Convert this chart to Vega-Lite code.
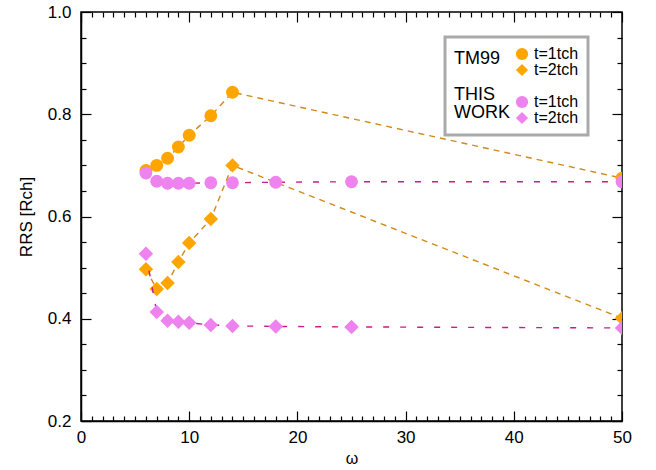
{
  "$schema": "https://vega.github.io/schema/vega-lite/v6.json",
  "width": 541,
  "height": 409,
  "autosize": {"type": "none"},
  "padding": {"left": 81, "top": 12, "right": 34, "bottom": 49},
  "config": {
    "font": "Liberation Sans",
    "view": {"stroke": "black", "strokeWidth": 1.5},
    "axis": {
      "domainColor": "black",
      "domainWidth": 1.5,
      "tickColor": "black",
      "tickWidth": 1.2,
      "labelColor": "black",
      "labelFontSize": 17,
      "titleColor": "black",
      "titleFontWeight": "normal",
      "grid": false,
      "zindex": 1
    },
    "legend": {"strokeWidth": 3}
  },
  "data": {
    "values": [
      {"w": 6, "r": 0.69, "group": "TM99", "t": "1", "key": "TM99 t1"},
      {"w": 7, "r": 0.70, "group": "TM99", "t": "1", "key": "TM99 t1"},
      {"w": 8, "r": 0.714, "group": "TM99", "t": "1", "key": "TM99 t1"},
      {"w": 9, "r": 0.736, "group": "TM99", "t": "1", "key": "TM99 t1"},
      {"w": 10, "r": 0.759, "group": "TM99", "t": "1", "key": "TM99 t1"},
      {"w": 12, "r": 0.797, "group": "TM99", "t": "1", "key": "TM99 t1"},
      {"w": 14, "r": 0.843, "group": "TM99", "t": "1", "key": "TM99 t1"},
      {"w": 50, "r": 0.675, "group": "TM99", "t": "1", "key": "TM99 t1"},
      {"w": 6, "r": 0.497, "group": "TM99", "t": "2", "key": "TM99 t2"},
      {"w": 7, "r": 0.458, "group": "TM99", "t": "2", "key": "TM99 t2"},
      {"w": 8, "r": 0.47, "group": "TM99", "t": "2", "key": "TM99 t2"},
      {"w": 9, "r": 0.511, "group": "TM99", "t": "2", "key": "TM99 t2"},
      {"w": 10, "r": 0.548, "group": "TM99", "t": "2", "key": "TM99 t2"},
      {"w": 12, "r": 0.595, "group": "TM99", "t": "2", "key": "TM99 t2"},
      {"w": 14, "r": 0.70, "group": "TM99", "t": "2", "key": "TM99 t2"},
      {"w": 50, "r": 0.401, "group": "TM99", "t": "2", "key": "TM99 t2"},
      {"w": 6, "r": 0.685, "group": "THIS", "t": "1", "key": "THIS t1"},
      {"w": 7, "r": 0.669, "group": "THIS", "t": "1", "key": "THIS t1"},
      {"w": 8, "r": 0.665, "group": "THIS", "t": "1", "key": "THIS t1"},
      {"w": 9, "r": 0.665, "group": "THIS", "t": "1", "key": "THIS t1"},
      {"w": 10, "r": 0.665, "group": "THIS", "t": "1", "key": "THIS t1"},
      {"w": 12, "r": 0.666, "group": "THIS", "t": "1", "key": "THIS t1"},
      {"w": 14, "r": 0.666, "group": "THIS", "t": "1", "key": "THIS t1"},
      {"w": 18, "r": 0.667, "group": "THIS", "t": "1", "key": "THIS t1"},
      {"w": 25, "r": 0.668, "group": "THIS", "t": "1", "key": "THIS t1"},
      {"w": 50, "r": 0.668, "group": "THIS", "t": "1", "key": "THIS t1"},
      {"w": 6, "r": 0.527, "group": "THIS", "t": "2", "key": "THIS t2"},
      {"w": 7, "r": 0.413, "group": "THIS", "t": "2", "key": "THIS t2"},
      {"w": 8, "r": 0.396, "group": "THIS", "t": "2", "key": "THIS t2"},
      {"w": 9, "r": 0.394, "group": "THIS", "t": "2", "key": "THIS t2"},
      {"w": 10, "r": 0.392, "group": "THIS", "t": "2", "key": "THIS t2"},
      {"w": 12, "r": 0.388, "group": "THIS", "t": "2", "key": "THIS t2"},
      {"w": 14, "r": 0.386, "group": "THIS", "t": "2", "key": "THIS t2"},
      {"w": 18, "r": 0.385, "group": "THIS", "t": "2", "key": "THIS t2"},
      {"w": 25, "r": 0.384, "group": "THIS", "t": "2", "key": "THIS t2"},
      {"w": 50, "r": 0.382, "group": "THIS", "t": "2", "key": "THIS t2"}
    ]
  },
  "layer": [
    {
      "transform": [{"filter": "datum.group === 'TM99' && datum.t === '1'"}],
      "mark": {"type": "line", "clip": true, "color": "#D08A1A", "strokeWidth": 1.4, "strokeDash": [6, 5]},
      "encoding": {
        "x": {
          "field": "w", "type": "quantitative",
          "scale": {"domain": [0, 50], "nice": false, "zero": false},
          "axis": {
            "orient": "bottom",
            "values": [0, 10, 20, 30, 40, 50],
            "ticks": false,
            "labelPadding": 8,
            "labelFlush": false,
            "title": "ω",
            "titleFontSize": 16,
            "titlePadding": 5
          }
        },
        "y": {
          "field": "r", "type": "quantitative",
          "scale": {"domain": [0.2, 1.0], "nice": false, "zero": false},
          "axis": {
            "orient": "left",
            "values": [0.2, 0.4, 0.6, 0.8, 1.0],
            "format": ".1f",
            "ticks": false,
            "labelPadding": 10,
            "labelFlush": false,
            "title": "RRS [Rch]",
            "titleFontSize": 17,
            "titlePadding": 12
          }
        }
      }
    },
    {
      "transform": [{"filter": "datum.group === 'TM99' && datum.t === '2'"}],
      "mark": {"type": "line", "clip": true, "color": "#D08A1A", "strokeWidth": 1.4, "strokeDash": [6, 5]},
      "encoding": {
        "x": {
          "field": "w", "type": "quantitative",
          "axis": {"orient": "top", "offset": -409, "values": [0, 10, 20, 30, 40, 50], "ticks": true, "tickSize": 10, "labels": false, "domain": false, "title": null}
        },
        "y": {
          "field": "r", "type": "quantitative",
          "axis": {"orient": "right", "offset": -541, "values": [0.2, 0.4, 0.6, 0.8, 1.0], "ticks": true, "tickSize": 10, "labels": false, "domain": false, "title": null}
        }
      }
    },
    {
      "transform": [{"filter": "datum.group === 'TM99'"}],
      "mark": {"type": "point", "filled": true, "opacity": 1, "clip": true},
      "encoding": {
        "x": {
          "field": "w", "type": "quantitative",
          "axis": {
            "orient": "top", "offset": -409,
            "values": [1,2,3,4,5,6,7,8,9,11,12,13,14,15,16,17,18,19,21,22,23,24,25,26,27,28,29,31,32,33,34,35,36,37,38,39,41,42,43,44,45,46,47,48,49],
            "ticks": true, "tickSize": 5, "labels": false, "domain": false, "title": null
          }
        },
        "y": {
          "field": "r", "type": "quantitative",
          "axis": {
            "orient": "right", "offset": -541,
            "values": [0.25, 0.3, 0.35, 0.45, 0.5, 0.55, 0.65, 0.7, 0.75, 0.85, 0.9, 0.95],
            "ticks": true, "tickSize": 5, "labels": false, "domain": false, "title": null
          }
        },
        "color": {
          "field": "key", "type": "nominal",
          "scale": {"domain": ["TM99 t1", "TM99 t2", "spacer", "THIS t1", "THIS t2"], "range": ["#FFA500", "#FFA500", "rgba(0,0,0,0)", "#EE82EE", "#EE82EE"]},
          "legend": {
            "orient": "none", "legendX": 364, "legendY": 25,
            "title": ["TM99", "\u200b", "THIS", "WORK"],
            "titleOrient": "left",
            "titleFontSize": 18, "titleFontWeight": "normal", "titleLineHeight": 18, "titleColor": "black",
            "titlePadding": 4,
            "labelExpr": "datum.value === 'spacer' ? '' : (indexof(datum.value, 't1') >= 0 ? 't=1tch' : 't=2tch')",
            "labelFontSize": 16, "labelColor": "black",
            "symbolSize": 150, "symbolStrokeWidth": 0,
            "strokeColor": "#aaaaaa", "fillColor": "white", "padding": 9, "rowPadding": -2
          }
        },
        "shape": {
          "field": "key", "type": "nominal",
          "scale": {"domain": ["TM99 t1", "TM99 t2", "spacer", "THIS t1", "THIS t2"], "range": ["circle", "diamond", "circle", "circle", "diamond"]},
          "legend": {
            "orient": "none", "legendX": 364, "legendY": 25,
            "title": ["TM99", "\u200b", "THIS", "WORK"],
            "titleOrient": "left",
            "titleFontSize": 18, "titleFontWeight": "normal", "titleLineHeight": 18, "titleColor": "black",
            "titlePadding": 4,
            "labelExpr": "datum.value === 'spacer' ? '' : (indexof(datum.value, 't1') >= 0 ? 't=1tch' : 't=2tch')",
            "labelFontSize": 16, "labelColor": "black",
            "symbolSize": 150, "symbolStrokeWidth": 0,
            "strokeColor": "#aaaaaa", "fillColor": "white", "padding": 9, "rowPadding": -2
          }
        },
        "size": {"condition": {"test": "datum.t === '1'", "value": 165}, "value": 210}
      }
    },
    {
      "transform": [{"filter": "datum.group === 'THIS' && datum.t === '1'"}],
      "mark": {"type": "line", "clip": true, "color": "#CC1A8E", "strokeWidth": 1.4, "strokeDash": [6, 11]},
      "encoding": {
        "x": {
          "field": "w", "type": "quantitative",
          "axis": {"orient": "bottom", "offset": -409, "values": [0, 10, 20, 30, 40, 50], "ticks": true, "tickSize": 10, "labels": false, "domain": false, "title": null}
        },
        "y": {
          "field": "r", "type": "quantitative",
          "axis": {"orient": "left", "offset": -541, "values": [0.2, 0.4, 0.6, 0.8, 1.0], "ticks": true, "tickSize": 10, "labels": false, "domain": false, "title": null}
        }
      }
    },
    {
      "transform": [{"filter": "datum.group === 'THIS' && datum.t === '2'"}],
      "mark": {"type": "line", "clip": true, "color": "#CC1A8E", "strokeWidth": 1.4, "strokeDash": [6, 11]},
      "encoding": {
        "x": {
          "field": "w", "type": "quantitative",
          "axis": {
            "orient": "bottom", "offset": -409,
            "values": [1,2,3,4,5,6,7,8,9,11,12,13,14,15,16,17,18,19,21,22,23,24,25,26,27,28,29,31,32,33,34,35,36,37,38,39,41,42,43,44,45,46,47,48,49],
            "ticks": true, "tickSize": 5, "labels": false, "domain": false, "title": null
          }
        },
        "y": {
          "field": "r", "type": "quantitative",
          "axis": {
            "orient": "left", "offset": -541,
            "values": [0.25, 0.3, 0.35, 0.45, 0.5, 0.55, 0.65, 0.7, 0.75, 0.85, 0.9, 0.95],
            "ticks": true, "tickSize": 5, "labels": false, "domain": false, "title": null
          }
        }
      }
    },
    {
      "transform": [{"filter": "datum.group === 'THIS'"}],
      "mark": {"type": "point", "filled": true, "opacity": 1, "clip": true},
      "encoding": {
        "x": {"field": "w", "type": "quantitative", "axis": null},
        "y": {"field": "r", "type": "quantitative", "axis": null},
        "color": {"field": "key", "type": "nominal"},
        "shape": {"field": "key", "type": "nominal"},
        "size": {"condition": {"test": "datum.t === '1'", "value": 165}, "value": 210}
      }
    }
  ],
  "resolve": {"axis": {"x": "independent", "y": "independent"}}
}
